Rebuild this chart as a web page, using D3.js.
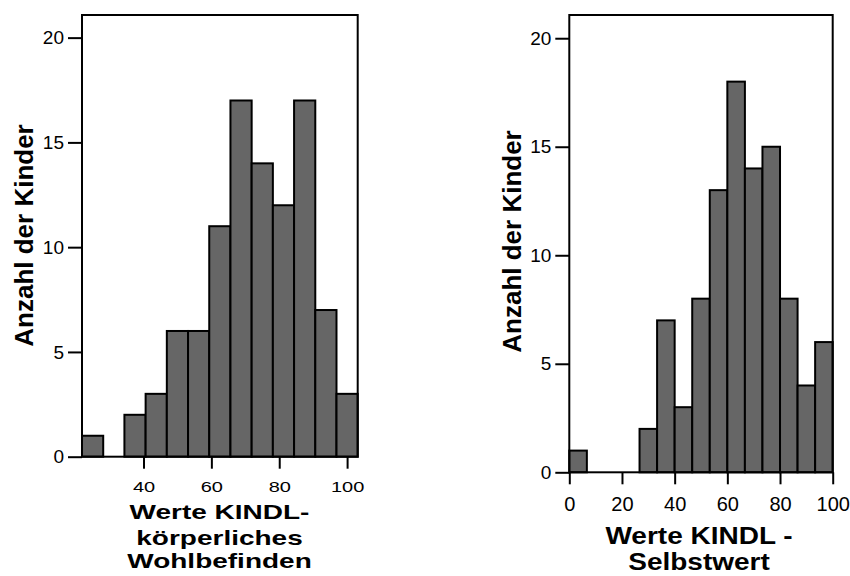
<!DOCTYPE html>
<html>
<head>
<meta charset="utf-8">
<script src="https://cdn.jsdelivr.net/npm/d3@7"></script>
<style>
  html, body { margin: 0; padding: 0; background: #fff; }
  svg { display: block; font-family: "Liberation Sans", Arial, sans-serif; }
</style>
</head>
<body>
<svg id="chart" width="850" height="576"></svg>
<script>
// KINDL – körperliches Wohlbefinden: bin edges and counts
const leftEdges = [21.875, 28.125, 34.375, 40.625, 46.875, 53.125, 59.375, 65.625,
                   71.875, 78.125, 84.375, 90.625, 96.875, 103.125];
const leftCounts = [1, 0, 2, 3, 6, 6, 11, 17, 14, 12, 17, 7, 3];
const leftXTicks = [40, 60, 80, 100];
const leftTitle = ["Werte KINDL-", "körperliches", "Wohlbefinden"];

// KINDL – Selbstwert: bin edges and counts
const rightEdges = [0, 6.667, 13.333, 20, 26.667, 33.333, 40, 46.667, 53.333,
                    60, 66.667, 73.333, 80, 86.667, 93.333, 100];
const rightCounts = [1, 0, 0, 0, 2, 7, 3, 8, 13, 18, 14, 15, 8, 4, 6];
const rightXTicks = [0, 20, 40, 60, 80, 100];
const rightTitle = ["Werte KINDL -", "Selbstwert"];

const yTicks = [0, 5, 10, 15, 20];
const yLabel = "Anzahl der Kinder";

const svg = d3.select("#chart");

function panel(opt) {
  const x = d3.scaleLinear().domain(opt.xDomain).range([opt.left, opt.right]);
  const y = d3.scaleLinear().domain([0, opt.yMax]).range([opt.bottom, opt.top]);
  const g = svg.append("g");

  const bins = opt.counts.map((c, i) => ({ x0: opt.edges[i], x1: opt.edges[i + 1], n: c }))
    .filter(d => d.n > 0);

  g.selectAll("rect.bar").data(bins).join("rect")
    .attr("class", "bar")
    .attr("x", d => x(d.x0))
    .attr("width", d => x(d.x1) - x(d.x0))
    .attr("y", d => y(d.n))
    .attr("height", d => y(0) - y(d.n))
    .attr("fill", "#666666")
    .attr("stroke", "#000")
    .attr("stroke-width", 2);

  // frame
  g.append("rect")
    .attr("x", opt.left).attr("y", opt.top)
    .attr("width", opt.right - opt.left).attr("height", opt.bottom - opt.top)
    .attr("fill", "none").attr("stroke", "#000").attr("stroke-width", 2);

  // y axis
  const ya = g.append("g").attr("transform", `translate(${opt.left},0)`)
    .call(d3.axisLeft(y).tickValues(yTicks).tickSize(14).tickPadding(4).tickSizeOuter(0));
  ya.select(".domain").remove();
  ya.selectAll(".tick line").attr("stroke-width", 2);
  ya.selectAll(".tick text").attr("font-size", 19).attr("font-family", "Liberation Sans, Arial, sans-serif")
    .attr("fill", "#000");

  // x axis
  const xa = g.append("g").attr("transform", `translate(0,${opt.bottom})`)
    .call(d3.axisBottom(x).tickValues(opt.xTicks).tickSize(12).tickSizeOuter(0));
  xa.select(".domain").remove();
  xa.selectAll(".tick line").attr("stroke-width", 2);
  xa.selectAll(".tick text")
    .attr("font-size", 20).attr("font-family", "Liberation Sans, Arial, sans-serif")
    .attr("fill", "#000")
    .attr("y", 0).attr("dy", 0)
    .attr("transform", `translate(0,${opt.xTickBase}) scale(1,${opt.xTickSy})`);

  // y title
  g.append("text")
    .attr("transform", `translate(${opt.yTitleX},${opt.yTitleY}) rotate(-90)`)
    .attr("text-anchor", "middle")
    .attr("font-weight", "bold").attr("font-size", 26)
    .text(yLabel);

  // x title
  g.selectAll("text.xtitle").data(opt.title).join("text")
    .attr("class", "xtitle")
    .attr("text-anchor", "middle")
    .attr("font-weight", "bold").attr("font-size", 28)
    .attr("transform", (d, i) => `translate(${opt.titleX},${opt.titleBase[i]}) scale(1,${opt.titleSy})`)
    .text(d => d);
}

panel({
  edges: leftEdges, counts: leftCounts, xTicks: leftXTicks, title: leftTitle,
  xDomain: [leftEdges[0], leftEdges[leftEdges.length - 1]], yMax: 21.08,
  left: 82, right: 357.7, top: 15, bottom: 456.7,
  xTickBase: 35.6, xTickSy: 0.75,
  yTitleX: 33, yTitleY: 235.5,
  titleX: 219.5, titleBase: [519, 545, 568], titleSy: 0.7
});

panel({
  edges: rightEdges, counts: rightCounts, xTicks: rightXTicks, title: rightTitle,
  xDomain: [0, 100], yMax: 21.07,
  left: 569.3, right: 832.7, top: 15, bottom: 472.3,
  xTickBase: 38.4, xTickSy: 1,
  yTitleX: 521, yTitleY: 241.5,
  titleX: 699, titleBase: [544, 570], titleSy: 0.84
});
</script>
</body>
</html>
